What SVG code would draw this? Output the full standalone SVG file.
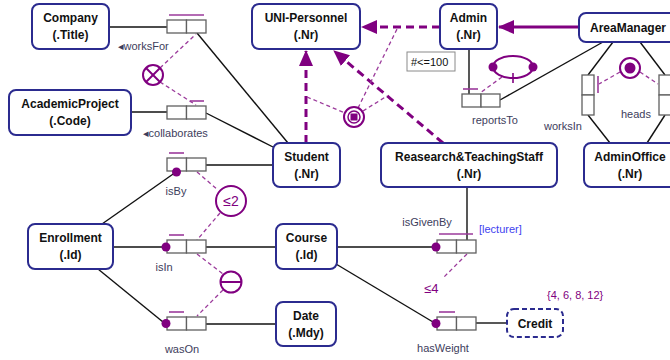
<svg xmlns="http://www.w3.org/2000/svg" width="670" height="360" viewBox="0 0 670 360">
<style>
.ent{fill:#fff;stroke:#2b2b8f;stroke-width:2}
.entd{fill:#fff;stroke:#2b2b8f;stroke-width:2;stroke-dasharray:5,3}
.et{font-family:"Liberation Sans",Arial,sans-serif;font-size:12px;font-weight:bold;fill:#111;text-anchor:middle}
.role{fill:#fff;stroke:#606060;stroke-width:1.3}
.ln{stroke:#111;stroke-width:1.4;fill:none}
.uc{stroke:#9b3a9b;stroke-width:1.6}
.cd{stroke:#9b3a9b;stroke-width:1.3;stroke-dasharray:4,3;fill:none}
.cc{fill:#fff;stroke:#800080;stroke-width:2}
.dot{fill:#800080}
.sub{stroke:#800080;stroke-width:3;fill:none}
.subd{stroke:#800080;stroke-width:3;fill:none;stroke-dasharray:8,5}
.lb{font-family:"Liberation Sans",Arial,"DejaVu Sans",sans-serif;font-size:11px;fill:#3d3d5c}
.pt{font-family:"Liberation Sans",Arial,sans-serif;fill:#800080}
</style>
<defs>
<marker id="ah" markerUnits="userSpaceOnUse" markerWidth="16" markerHeight="14" refX="15" refY="7" orient="auto">
<path d="M0,0 L16,7 L0,14 Z" fill="#800080"/>
</marker>
</defs>

<g id="connectors">
<line class="ln" x1="109" y1="27" x2="167" y2="27"/>
<line class="ln" x1="131" y1="112" x2="167" y2="112"/>
<line class="ln" x1="197" y1="33" x2="288" y2="143"/>
<line class="ln" x1="206" y1="113" x2="273" y2="147"/>
<line class="ln" x1="206" y1="165" x2="273" y2="165"/>
<line class="ln" x1="102" y1="224" x2="176" y2="172"/>
<line class="ln" x1="113" y1="247" x2="162" y2="247"/>
<line class="ln" x1="98" y1="269" x2="163" y2="322"/>
<line class="ln" x1="206" y1="247" x2="276" y2="247"/>
<line class="ln" x1="206" y1="324" x2="276" y2="324"/>
<line class="ln" x1="337" y1="247" x2="432" y2="247"/>
<line class="ln" x1="336" y1="264" x2="433" y2="322"/>
<line class="ln" x1="476" y1="323" x2="507" y2="323"/>
<line class="ln" x1="467" y1="187" x2="467" y2="240"/>
<line class="ln" x1="469" y1="49" x2="469" y2="94"/>
<line class="ln" x1="603" y1="42" x2="500" y2="100"/>
<line class="ln" x1="613" y1="42" x2="588" y2="75"/>
<line class="ln" x1="588" y1="115" x2="610" y2="143"/>
<line class="ln" x1="640" y1="42" x2="665" y2="75"/>
<line class="ln" x1="665" y1="115" x2="647" y2="143"/>
<!-- subtype arrows -->
<line class="subd" x1="440" y1="27" x2="362" y2="27" marker-end="url(#ah)"/>
<line class="sub" x1="579" y1="27" x2="499" y2="27" marker-end="url(#ah)"/>
<line class="subd" x1="306" y1="143" x2="306" y2="51" marker-end="url(#ah)"/>
<line class="subd" x1="443" y1="143" x2="334" y2="51" marker-end="url(#ah)"/>
<!-- constraint dashed lines -->
<line class="cd" x1="160" y1="68" x2="196" y2="34"/>
<line class="cd" x1="160" y1="82" x2="196" y2="105"/>
<line class="cd" x1="197" y1="172" x2="218" y2="190"/>
<line class="cd" x1="220" y1="213" x2="197" y2="240"/>
<line class="cd" x1="197" y1="254" x2="223" y2="274"/>
<line class="cd" x1="223" y1="290" x2="197" y2="316"/>
<line class="cd" x1="467" y1="254" x2="444" y2="277"/>
<line class="cd" x1="502" y1="77" x2="480" y2="93"/>
<line class="cd" x1="620" y1="72" x2="599" y2="84"/>
<line class="cd" x1="640" y1="72" x2="658" y2="84"/>
<line class="cd" x1="307" y1="97" x2="345" y2="113"/>
<line class="cd" x1="363" y1="111" x2="387" y2="96"/>
<line class="cd" x1="358" y1="108" x2="398" y2="27"/>
</g>

<g id="Company"><rect class="ent" x="32" y="4" width="77" height="45" rx="7"/><text class="et" x="70.5" y="22">Company</text><text class="et" x="70.5" y="38.5">(.Title)</text></g>
<g id="AcademicProject"><rect class="ent" x="9" y="90" width="122" height="45" rx="7"/><text class="et" x="70" y="108">AcademicProject</text><text class="et" x="70" y="124.5">(.Code)</text></g>
<g id="UNI-Personnel"><rect class="ent" x="252" y="4" width="108" height="45" rx="7"/><text class="et" x="306" y="22">UNI-Personnel</text><text class="et" x="306" y="38.5">(.Nr)</text></g>
<g id="Admin"><rect class="ent" x="440" y="4" width="57" height="45" rx="7"/><text class="et" x="468.5" y="22">Admin</text><text class="et" x="468.5" y="38.5">(.Nr)</text></g>
<g id="AreaManager"><rect class="ent" x="579" y="13" width="98" height="29" rx="7"/><text class="et" x="628" y="31.5">AreaManager</text></g>
<g id="Student"><rect class="ent" x="273" y="143" width="67" height="44" rx="7"/><text class="et" x="306.5" y="161">Student</text><text class="et" x="306.5" y="177.5">(.Nr)</text></g>
<g id="ResearchTeachingStaff"><rect class="ent" x="381" y="143" width="176" height="44" rx="7"/><text class="et" x="469" y="161">Reasearch&amp;TeachingStaff</text><text class="et" x="469" y="177.5">(.Nr)</text></g>
<g id="AdminOffice"><rect class="ent" x="584" y="143" width="96" height="44" rx="7"/><text class="et" x="630" y="161">AdminOffice</text><text class="et" x="630" y="177.5">(.Nr)</text></g>
<g id="Enrollment"><rect class="ent" x="28" y="224" width="85" height="45" rx="7"/><text class="et" x="70.5" y="242">Enrollment</text><text class="et" x="70.5" y="258.5">(.Id)</text></g>
<g id="Course"><rect class="ent" x="276" y="224" width="61" height="45" rx="7"/><text class="et" x="306.5" y="242">Course</text><text class="et" x="306.5" y="258.5">(.Id)</text></g>
<g id="Date"><rect class="ent" x="276" y="302" width="60" height="44" rx="7"/><text class="et" x="306" y="320">Date</text><text class="et" x="306" y="336.5">(.Mdy)</text></g>
<g id="Credit"><rect class="entd" x="507" y="309" width="56" height="28" rx="7"/><text class="et" x="535" y="327.5">Credit</text></g>

<g id="worksFor"><rect class="role" x="167" y="20" width="19.5" height="13"/><rect class="role" x="186.5" y="20" width="19.5" height="13"/><line class="uc" x1="169" y1="15" x2="204" y2="15"/><text class="lb" x="118" y="50">◂worksFor</text></g>
<g id="collaborates"><rect class="role" x="167" y="106" width="19.5" height="13"/><rect class="role" x="186.5" y="106" width="19.5" height="13"/><line class="uc" x1="190" y1="101" x2="204" y2="101"/><text class="lb" x="143" y="137">◂collaborates</text></g>
<g id="isBy"><rect class="role" x="167" y="158" width="19.5" height="13"/><rect class="role" x="186.5" y="158" width="19.5" height="13"/><line class="uc" x1="169" y1="153" x2="184" y2="153"/><circle class="dot" cx="176.5" cy="172" r="4.5"/><text class="lb" x="176" y="195" text-anchor="middle">isBy</text></g>
<g id="isIn"><rect class="role" x="167" y="240" width="19.5" height="13"/><rect class="role" x="186.5" y="240" width="19.5" height="13"/><line class="uc" x1="169" y1="235" x2="184" y2="235"/><circle class="dot" cx="166" cy="247" r="4.5"/><text class="lb" x="164" y="271" text-anchor="middle">isIn</text></g>
<g id="wasOn"><rect class="role" x="167" y="317" width="19.5" height="13"/><rect class="role" x="186.5" y="317" width="19.5" height="13"/><line class="uc" x1="169" y1="312" x2="184" y2="312"/><circle class="dot" cx="166" cy="323.5" r="4.5"/><text class="lb" x="182" y="353" text-anchor="middle">wasOn</text></g>
<g id="isGivenBy"><rect class="role" x="437" y="240" width="19.5" height="13"/><rect class="role" x="456.5" y="240" width="19.5" height="13"/><line class="uc" x1="439" y1="234" x2="473" y2="234"/><circle class="dot" cx="436" cy="247" r="4.5"/><text class="lb" x="427" y="226" text-anchor="middle">isGivenBy</text><text class="lb" x="479" y="233" style="fill:#3f3ff0">[lecturer]</text><text class="pt" x="424" y="293" font-size="13">≤4</text></g>
<g id="hasWeight"><rect class="role" x="437" y="317" width="19.5" height="13"/><rect class="role" x="456.5" y="317" width="19.5" height="13"/><line class="uc" x1="439" y1="312" x2="455" y2="312"/><circle class="dot" cx="436" cy="323.5" r="4.5"/><text class="lb" x="443" y="352" text-anchor="middle">hasWeight</text><text class="pt" x="547" y="299" font-size="11">{4, 6, 8, 12}</text></g>
<g id="reportsTo"><rect class="role" x="462" y="94" width="19" height="13"/><rect class="role" x="481" y="94" width="19" height="13"/><line class="uc" x1="463" y1="89" x2="478" y2="89"/><text class="lb" x="495" y="124" text-anchor="middle">reportsTo</text>
<rect x="407" y="52" width="48" height="19" fill="#fff" stroke="#8a8a8a" stroke-width="1"/><text x="411" y="66" font-family="Liberation Sans,Arial,sans-serif" font-size="11" fill="#111">#&lt;=100</text></g>
<g id="worksIn"><rect class="role" x="582" y="75" width="12" height="20"/><rect class="role" x="582" y="95" width="12" height="20"/><line class="uc" x1="598" y1="76" x2="598" y2="93"/><text class="lb" x="563" y="130" text-anchor="middle">worksIn</text></g>
<g id="heads"><rect class="role" x="659" y="75" width="12" height="20"/><rect class="role" x="659" y="95" width="12" height="20"/><text class="lb" x="636" y="118" text-anchor="middle">heads</text></g>

<g id="exclusion"><circle class="cc" cx="153" cy="75" r="10"/><line x1="146" y1="68" x2="160" y2="82" stroke="#800080" stroke-width="2"/><line x1="160" y1="68" x2="146" y2="82" stroke="#800080" stroke-width="2"/></g>
<g id="frequency2"><circle class="cc" cx="231" cy="201" r="15"/><text class="pt" x="231" y="206" font-size="14" text-anchor="middle">≤2</text></g>
<g id="equality"><circle class="cc" cx="231" cy="282" r="10.5"/><line x1="220.5" y1="282" x2="241.5" y2="282" stroke="#800080" stroke-width="2"/></g>
<g id="partition"><circle class="cc" cx="354" cy="117" r="10"/><circle cx="354" cy="117" r="6" fill="none" stroke="#800080" stroke-width="1.5"/><rect x="350.5" y="113.5" width="7" height="7" fill="#800080"/></g>
<g id="ring"><ellipse cx="513" cy="67" rx="20" ry="11" fill="none" stroke="#800080" stroke-width="2"/><circle class="dot" cx="493" cy="67" r="4.5"/><circle class="dot" cx="533" cy="67" r="4.5"/><line x1="513" y1="73" x2="513" y2="83" stroke="#800080" stroke-width="1.6"/></g>
<g id="inclusiveOr"><circle class="cc" cx="630" cy="68" r="10"/><circle class="dot" cx="630" cy="68" r="5.5"/></g>
</svg>
